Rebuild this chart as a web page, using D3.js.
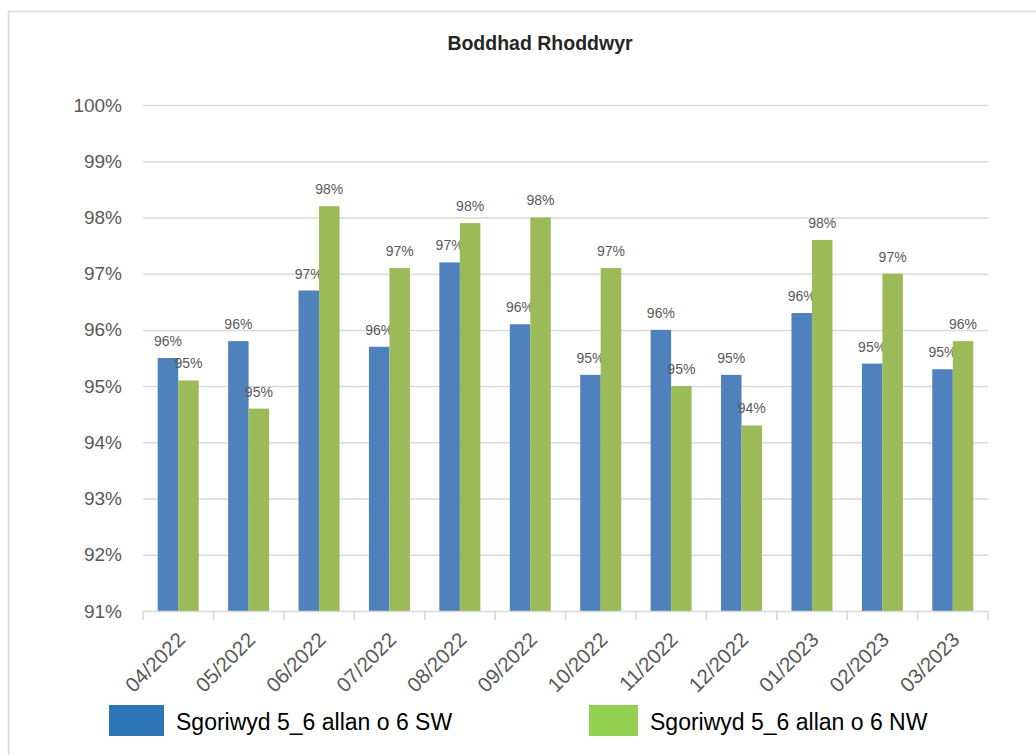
<!DOCTYPE html>
<html>
<head>
<meta charset="utf-8">
<script src="https://cdn.jsdelivr.net/npm/d3@7"></script>
<style>
    body { margin: 0; background: #ffffff; }
    svg { display: block; font-family: "Liberation Sans", Arial, sans-serif; }
</style>
</head>
<body>
<svg width="1036" height="755"></svg>
<script>
//Chart data (percent values).
var categories = ["04/2022", "05/2022", "06/2022", "07/2022", "08/2022", "09/2022",
    "10/2022", "11/2022", "12/2022", "01/2023", "02/2023", "03/2023"];
var swValues = [95.5, 95.8, 96.7, 95.7, 97.2, 96.1, 95.2, 96.0, 95.2, 96.3, 95.4, 95.3];
var nwValues = [95.1, 94.6, 98.2, 97.1, 97.9, 98.0, 97.1, 95.0, 94.3, 97.6, 97.0, 95.8];
var seriesNames = ["Sgoriwyd 5_6 allan o 6 SW", "Sgoriwyd 5_6 allan o 6 NW"];
var yTicks = [91, 92, 93, 94, 95, 96, 97, 98, 99, 100];
var chartTitle = "Boddhad Rhoddwyr";

drawChart();

//Draws the whole chart into the svg.
function drawChart() {
    var svg = d3.select("svg");
    var left = 143, right = 988, top = 105, bottom = 611;

    //outer chart border
    svg.append("rect").attr("x", 8.5).attr("y", 11.5).attr("width", 1100).attr("height", 800)
        .attr("fill", "none").attr("stroke", "#d9d9d9").attr("stroke-width", 1.5);

    svg.append("text").attr("x", 540).attr("y", 50).attr("text-anchor", "middle")
        .attr("font-weight", "bold").attr("font-size", 19.5).attr("fill", "#262626")
        .text(chartTitle);

    var x = d3.scaleBand().domain(categories).range([left, right]).padding(0);
    var keys = ["sw", "nw"];
    var x1 = d3.scaleBand().domain(keys).range([0, x.bandwidth()]).paddingInner(0).paddingOuter(0.717);
    var y = d3.scaleLinear().domain([91, 100]).range([bottom, top]);

    //gridlines
    var grid = svg.append("g").attr("transform", "translate(" + left + ",0)")
        .call(d3.axisLeft(y).tickValues(yTicks.slice(1)).tickSize(-(right - left)).tickFormat(""));
    grid.select(".domain").remove();
    grid.selectAll("line").attr("stroke", "#d9d9d9").attr("stroke-width", 1.5);

    //y axis labels
    var yAxis = svg.append("g").attr("transform", "translate(122,0)")
        .call(d3.axisLeft(y).tickValues(yTicks).tickSize(0).tickPadding(0).tickFormat(function(d) { return d + "%"; }));
    yAxis.select(".domain").remove();
    yAxis.selectAll("text").attr("font-size", 19).attr("fill", "#595959")
        .attr("font-family", "Liberation Sans, Arial, sans-serif");

    //bars
    var rows = categories.map(function(c, i) { return { cat: c, sw: swValues[i], nw: nwValues[i] }; });
    var colors = { sw: "#4f81bd", nw: "#9bbb59" };
    var groups = svg.append("g").selectAll("g").data(rows).join("g")
        .attr("transform", function(d) { return "translate(" + x(d.cat) + ",0)"; });
    var cells = groups.selectAll("g").data(function(d) {
        return keys.map(function(k) { return { key: k, value: d[k] }; });
    }).join("g");
    cells.append("rect")
        .attr("x", function(d) { return x1(d.key); })
        .attr("y", function(d) { return y(d.value); })
        .attr("width", x1.bandwidth())
        .attr("height", function(d) { return y(91) - y(d.value); })
        .attr("fill", function(d) { return colors[d.key]; });
    cells.append("text")
        .attr("x", function(d) { return x1(d.key) + x1.bandwidth() / 2; })
        .attr("y", function(d) { return y(d.value) - 12; })
        .attr("text-anchor", "middle").attr("font-size", 14).attr("fill", "#595959")
        .text(function(d) { return Math.round(d.value) + "%"; });

    //x axis line and ticks between categories
    var xAxis = svg.append("g").attr("transform", "translate(0," + bottom + ")")
        .call(d3.axisBottom(x).tickSize(0).tickSizeOuter(0).tickFormat(""));
    xAxis.select(".domain").attr("stroke", "#d9d9d9").attr("stroke-width", 1.5);
    var edges = categories.map(function(c) { return x(c); }).concat([right]);
    svg.append("g").selectAll("line").data(edges).join("line")
        .attr("x1", function(d) { return d; }).attr("x2", function(d) { return d; })
        .attr("y1", bottom).attr("y2", bottom + 9)
        .attr("stroke", "#d9d9d9").attr("stroke-width", 1.5);

    //rotated category labels
    svg.append("g").selectAll("text").data(categories).join("text")
        .attr("transform", function(d) {
            return "translate(" + (x(d) + x.bandwidth() / 2 + 8) + ",641) rotate(-45)";
        })
        .attr("text-anchor", "end").attr("font-size", 20.5).attr("fill", "#595959")
        .text(function(d) { return d; });

    //legend
    var legendColors = ["#2e75b6", "#92d050"];
    var legendBoxes = [{ x: 109, w: 55, tx: 176 }, { x: 589, w: 49, tx: 650 }];
    var legend = svg.append("g").selectAll("g").data(seriesNames).join("g");
    legend.append("rect")
        .attr("x", function(d, i) { return legendBoxes[i].x; }).attr("y", 705)
        .attr("width", function(d, i) { return legendBoxes[i].w; }).attr("height", 31)
        .attr("fill", function(d, i) { return legendColors[i]; });
    legend.append("text")
        .attr("x", function(d, i) { return legendBoxes[i].tx; }).attr("y", 730)
        .attr("font-size", 23).attr("fill", "#000000")
        .text(function(d) { return d; });
}
</script>
</body>
</html>
